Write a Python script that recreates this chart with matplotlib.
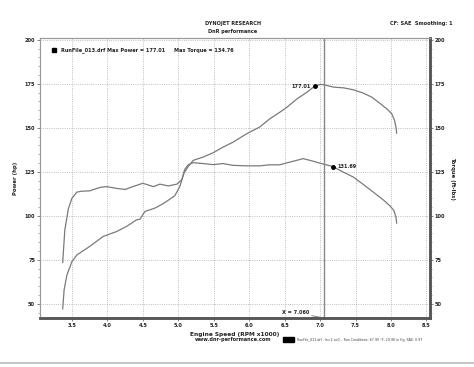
import numpy as np
import matplotlib
matplotlib.use("Agg")
import matplotlib.pyplot as plt
from matplotlib.lines import Line2D
from matplotlib.patches import Rectangle

# Power curve (hp) vs engine speed (rpm x1000)
power_rpm = [3.37, 3.39, 3.43, 3.50, 3.57, 3.64, 3.75, 3.94, 4.13, 4.27,
             4.41, 4.46, 4.53, 4.67, 4.79, 4.95, 5.02, 5.08, 5.14, 5.21,
             5.35, 5.49, 5.63, 5.77, 5.96, 6.15, 6.29, 6.43, 6.53, 6.67,
             6.81, 6.92, 7.00, 7.07, 7.19, 7.33, 7.47, 7.61, 7.73, 7.84,
             7.94, 8.01, 8.05, 8.07, 8.08]
power_hp = [47.2, 58.0, 66.5, 74.0, 77.8, 79.7, 82.6, 88.3, 91.1, 94.0,
            97.7, 98.1, 102.5, 104.4, 107.0, 111.4, 116.5, 124.2, 128.0, 131.5,
            133.4, 135.8, 139.0, 141.8, 146.5, 150.5, 155.1, 158.8, 161.6, 166.3,
            170.1, 173.5, 174.7, 174.3, 173.1, 172.7, 171.6, 169.7, 167.4, 164.0,
            160.8, 158.0, 154.2, 150.4, 147.0]

# Torque curve (ft-lbs)
torque_rpm = [3.37, 3.40, 3.45, 3.50, 3.57, 3.64, 3.75, 3.90, 3.99, 4.13,
              4.25, 4.36, 4.50, 4.65, 4.74, 4.86, 4.98, 5.05, 5.09, 5.14,
              5.21, 5.35, 5.49, 5.63, 5.77, 5.96, 6.15, 6.29, 6.43, 6.62,
              6.76, 6.86, 7.00, 7.18, 7.33, 7.47, 7.61, 7.75, 7.89, 7.98,
              8.04, 8.07, 8.08]
torque_ftlb = [73.5, 92.0, 104.0, 110.0, 113.5, 114.0, 114.2, 116.2, 116.6, 115.6,
               115.0, 116.6, 118.5, 116.6, 118.0, 117.0, 118.0, 120.5, 126.3, 129.0,
               130.2, 129.7, 129.1, 129.7, 128.7, 128.4, 128.4, 129.0, 129.0, 131.0,
               132.5, 131.5, 129.9, 128.0, 124.8, 122.0, 117.8, 113.5, 109.1, 105.9,
               103.1, 99.3, 95.9]

max_power = 177.01
max_torque = 134.76
power_marker_rpm = 6.93
torque_marker_rpm = 7.18
torque_marker_label = 131.69
cursor_rpm = 7.060

x_ticks = [3.5, 4.0, 4.5, 5.0, 5.5, 6.0, 6.5, 7.0, 7.5, 8.0, 8.5]
y_ticks = [50, 75, 100, 125, 150, 175, 200]

CURVE = "#7a7a7a"
TXT = "#222222"
FS = 3.6

fig = plt.figure(figsize=(4.74, 3.67), dpi=100)
ax = fig.add_axes([40 / 474, 1 - 318 / 367, 390 / 474, 280 / 367])
ax2 = ax.twinx()

ax.plot(power_rpm, power_hp, color=CURVE, linewidth=0.9)
ax.plot(torque_rpm, torque_ftlb, color=CURVE, linewidth=0.9)

ax.set_xlim(3.05, 8.55)
ax.set_ylim(42, 201)
ax2.set_ylim(42, 201)

ax.set_xticks(x_ticks)
ax.set_xticklabels([f"{v:.1f}" for v in x_ticks], fontsize=FS, fontweight="bold", color=TXT)
ax.set_yticks(y_ticks)
ax.set_yticklabels([str(v) for v in y_ticks], fontsize=FS, fontweight="bold", color=TXT)
ax2.set_yticks(y_ticks)
ax2.set_yticklabels([str(v) for v in y_ticks], fontsize=FS, fontweight="bold", color=TXT)
ax.set_yticks(np.arange(45, 201, 5), minor=True)
ax2.set_yticks(np.arange(45, 201, 5), minor=True)

ax.tick_params(axis="both", which="major", length=2, width=0.5, pad=1.5, colors="#555555",
               labelcolor=TXT)
ax.tick_params(axis="y", which="minor", length=1.2, width=0.4, colors="#777777")
ax2.tick_params(axis="y", which="major", length=2, width=0.5, pad=1.5, colors="#555555",
                labelcolor=TXT)
ax2.tick_params(axis="y", which="minor", length=1.2, width=0.4, colors="#777777")

ax.grid(True, linestyle=":", linewidth=0.6, color="#aaaaaa")

for a in (ax, ax2):
    a.spines["top"].set_color("#999999")
    a.spines["top"].set_linewidth(0.8)
    a.spines["left"].set_color("#999999")
    a.spines["left"].set_linewidth(0.8)
    a.spines["right"].set_color("#555555")
    a.spines["right"].set_linewidth(1.8)
    a.spines["bottom"].set_color("#555555")
    a.spines["bottom"].set_linewidth(1.8)

ax.set_xlabel("Engine Speed (RPM x1000)", fontsize=4.2, fontweight="bold", color=TXT, labelpad=3)
ax.set_ylabel("Power (hp)", fontsize=3.8, fontweight="bold", color=TXT, labelpad=5)
ax2.set_ylabel("Torque (ft-lbs)", fontsize=3.8, fontweight="bold", color=TXT,
               rotation=-90, labelpad=7)

# cursor line
ax.axvline(cursor_rpm, color="#888888", linewidth=1.0)
ax.annotate(f"X = {cursor_rpm:.3f}", xy=(cursor_rpm, 42), xytext=(6.65, 45),
            fontsize=FS, fontweight="bold", color=TXT, ha="center", va="center",
            arrowprops=dict(arrowstyle="-", color="#777777", linewidth=0.6,
                            shrinkA=0, shrinkB=0))

# peak markers
pm_y = np.interp(power_marker_rpm, power_rpm, power_hp)
ax.plot(power_marker_rpm, pm_y, "o", color="black", markersize=2.5)
ax.text(power_marker_rpm - 0.06, pm_y, f"{max_power:.2f}", fontsize=FS, fontweight="bold",
        color=TXT, ha="right", va="center")
tm_y = np.interp(torque_marker_rpm, torque_rpm, torque_ftlb)
ax.plot(torque_marker_rpm, tm_y, "o", color="black", markersize=2.5)
ax.text(torque_marker_rpm + 0.07, tm_y, f"{torque_marker_label:.2f}", fontsize=FS,
        fontweight="bold", color=TXT, ha="left", va="center")

# legend line inside plot
ax.plot(3.25, 194, "s", color="black", markersize=3)
ax.text(3.34, 194, f"RunFile_013.drf Max Power = {max_power:.2f}     Max Torque = {max_torque:.2f}",
        fontsize=FS, fontweight="bold", color=TXT, ha="left", va="center")

# header texts
fig.text(233 / 474, 1 - 24 / 367, "DYNOJET RESEARCH", fontsize=FS, fontweight="bold",
         color=TXT, ha="center", va="center")
fig.text(233 / 474, 1 - 32 / 367, "DnR performance", fontsize=FS, fontweight="bold",
         color=TXT, ha="center", va="center")
fig.text(453 / 474, 1 - 24 / 367, "CF: SAE  Smoothing: 1", fontsize=FS, fontweight="bold",
         color=TXT, ha="right", va="center")

# footer texts
fig.text(233 / 474, 1 - 340 / 367, "www.dnr-performance.com", fontsize=FS, fontweight="bold",
         color=TXT, ha="center", va="center")
fig.patches.append(Rectangle((283 / 474, 1 - 342 / 367), 11 / 474, 5 / 367,
                             transform=fig.transFigure, color="black"))
fig.text(297 / 474, 1 - 339.5 / 367,
         "RunFile_013.drf - ln=2 ao0 -  Run Conditions: 67.90 \u00b0F, 29.98 in Hg, SAE: 0.97",
         fontsize=2.3, color="#444444", ha="left", va="center")

# scan streak near bottom
fig.lines.append(Line2D([0, 1], [1 - 363 / 367, 1 - 363 / 367], transform=fig.transFigure,
                        color="#bbbbbb", linewidth=1.2))

plt.savefig("out.png", dpi=100)
plt.close()
